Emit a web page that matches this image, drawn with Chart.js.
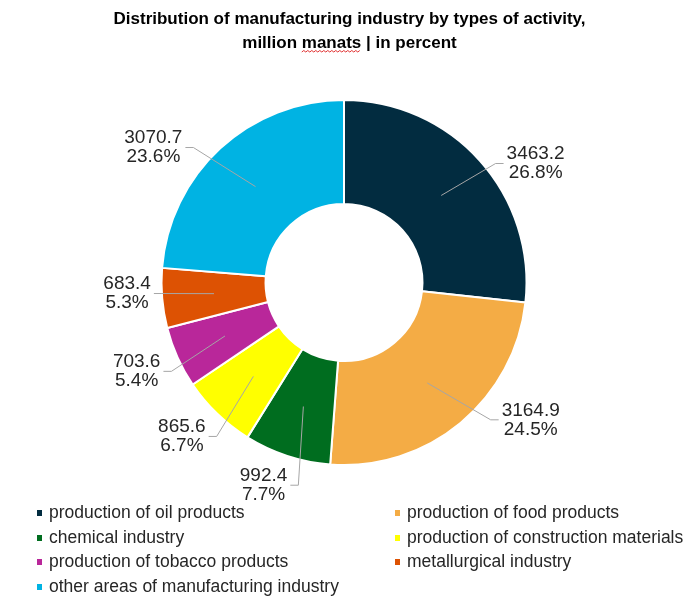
<!DOCTYPE html>
<html>
<head>
<meta charset="utf-8">
<title>Manufacturing industry</title>
<script src="https://cdn.jsdelivr.net/npm/chart.js@4.4.1/dist/chart.umd.min.js"></script>
<style>
    html, body { margin: 0; padding: 0; background: #fff; }
    #wrap { width: 699px; height: 604px; }
</style>
</head>
<body>
<div id="wrap"><canvas id="myChart"></canvas></div>
<script>
// Datos del grafico
const categories = [
    'production of oil products',
    'production of food products',
    'chemical industry',
    'production of construction materials',
    'production of tobacco products',
    'metallurgical industry',
    'other areas of manufacturing industry'
];
const values = [3463.2, 3164.9, 992.4, 865.6, 703.6, 683.4, 3070.7];
const percentLabels = ['26.8%', '24.5%', '7.7%', '6.7%', '5.4%', '5.3%', '23.6%'];
const colors = ['#022c40', '#f4ac45', '#006d1f', '#ffff00', '#b9279a', '#dd5203', '#00b3e3'];
const titleLines = ['Distribution of manufacturing industry by types of activity,', 'million manats | in percent'];

const FONT = "'Liberation Sans', Arial, sans-serif";
const TEXT = '#262626';

// colocacion de cada etiqueta como la acomoda Excel:
// giro en grados y distancia relativa al radio exterior
const labelNudge = [10, -14, 3.5, 2.5, 1, 2, -12];
const labelDist = [1.236, 1.27, 1.195, 1.225, 1.236, 1.19, 1.28];

// Titulo con la linea ondulada roja bajo "manats"
const titlePlugin = {
    id: 'titlePlugin',
    afterDraw(chart) {
        const c = chart.ctx;
        const cx = chart.width / 2;
        c.save();
        c.font = 'bold 17px ' + FONT;
        c.fillStyle = '#000';
        c.textAlign = 'center';
        c.textBaseline = 'alphabetic';
        c.fillText(titleLines[0], cx, 24);
        c.fillText(titleLines[1], cx, 48);

        // subrayado ondulado
        const w2 = c.measureText(titleLines[1]).width;
        const x0 = cx - w2 / 2 + c.measureText('million ').width;
        const x1 = x0 + c.measureText('manats').width;
        c.strokeStyle = '#e03030';
        c.lineWidth = 1;
        c.beginPath();
        let up = true;
        c.moveTo(x0, 52);
        for (let x = x0 + 2; x <= x1; x += 2) {
            c.lineTo(x, up ? 50.5 : 52);
            up = !up;
        }
        c.stroke();
        c.restore();
    }
};

// Etiquetas de datos con lineas guia
const labelPlugin = {
    id: 'labelPlugin',
    afterDatasetsDraw(chart) {
        const c = chart.ctx;
        const arcs = chart.getDatasetMeta(0).data;
        c.save();
        c.font = '19px ' + FONT;
        c.textAlign = 'center';
        c.textBaseline = 'middle';
        arcs.forEach((arc, i) => {
            const p = arc.getProps(['x', 'y', 'startAngle', 'endAngle', 'innerRadius', 'outerRadius'], true);
            const mid = (p.startAngle + p.endAngle) / 2;
            const rMid = (p.innerRadius + p.outerRadius) / 2;
            const ax = p.x + Math.cos(mid) * rMid;
            const ay = p.y + Math.sin(mid) * rMid;
            const a2 = mid + labelNudge[i] * Math.PI / 180;
            const lr = p.outerRadius * labelDist[i];
            const lx = p.x + Math.cos(a2) * lr;
            const ly = p.y + Math.sin(a2) * lr;

            const line1 = values[i].toFixed(1);
            const line2 = percentLabels[i];
            const w = Math.max(c.measureText(line1).width, c.measureText(line2).width);
            const right = lx > p.x;
            const endX = right ? lx - w / 2 - 3 : lx + w / 2 + 3;
            const elbowX = right ? endX - 8 : endX + 8;

            c.strokeStyle = '#a6a6a6';
            c.lineWidth = 1;
            c.beginPath();
            c.moveTo(ax, ay);
            c.lineTo(elbowX, ly);
            c.lineTo(endX, ly);
            c.stroke();

            c.fillStyle = TEXT;
            c.fillText(line1, lx, ly - 9.5);
            c.fillText(line2, lx, ly + 9.5);
        });
        c.restore();
    }
};

// Leyenda en dos columnas
const legendPlugin = {
    id: 'legendPlugin',
    afterDraw(chart) {
        const c = chart.ctx;
        const colX = [37, 395];
        const rowY = [513, 538, 562, 587];
        c.save();
        c.font = '17.5px ' + FONT;
        c.textAlign = 'left';
        c.textBaseline = 'middle';
        categories.forEach((name, i) => {
            const x = colX[i % 2];
            const y = rowY[Math.floor(i / 2)];
            c.fillStyle = colors[i];
            c.fillRect(x, y - 3, 5, 6);
            c.fillStyle = TEXT;
            c.fillText(name, x + 12, y);
        });
        c.restore();
    }
};

const ctx = document.getElementById('myChart').getContext('2d');
const myChart = new Chart(ctx, {
    type: 'doughnut',
    data: {
        labels: categories,
        datasets: [{
            data: values,
            backgroundColor: colors,
            borderColor: '#ffffff',
            borderWidth: 2
        }]
    },
    options: {
        responsive: true,
        maintainAspectRatio: false,
        animation: false,
        cutout: '43%',
        layout: {
            padding: { top: 99, bottom: 138, left: 0, right: 11 }
        },
        plugins: {
            legend: { display: false },
            title: { display: false },
            tooltip: { enabled: false }
        }
    },
    plugins: [titlePlugin, labelPlugin, legendPlugin]
});
</script>
</body>
</html>
